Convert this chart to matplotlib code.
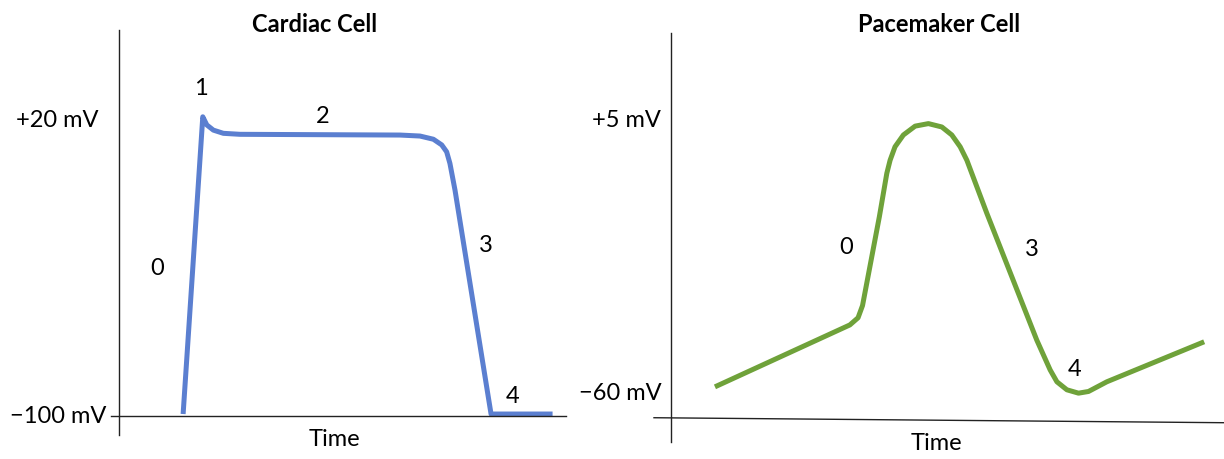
import matplotlib.pyplot as plt

# cardiac (ventricular) action potential, time in ms, voltage in mV
cardiac_t = [43, 56.2, 58.9, 63.3, 70, 81.2, 188.6, 202, 211, 216.6, 219.9, 222.1, 225.5, 249.7, 291]
cardiac_v = [-100, 20.5, 17.2, 15.1, 13.8, 13.4, 13.1, 12.7, 11.4, 9.1, 6.3, 1.6, -9.2, -100, -100]
cardiac_phase = ["0", "1", "2", "3", "4"]
cardiac_phase_t = [25.5, 55, 137, 246, 264]
cardiac_phase_v = [-41, 32, 20.5, -31.5, -93]
cardiac_ticks = [20, -100]
cardiac_ticklabels = ["+20 mV", "\u2212100 mV"]

# pacemaker (SA node) action potential
pace_t = [29.5, 120, 125.5, 128.5, 139.8, 144.8, 147, 150.3, 155.9, 163.8, 172.7, 181.7, 188.4, 194,
          198.5, 211.9, 245.4, 254.4, 258.9, 265.6, 273.4, 280.1, 292.4, 357.7]
pace_v = [-58.8, -44.1, -42.4, -39.5, -18.4, -8.1, -5, -1.8, 1, 3.1, 3.7, 2.9, 1, -1.8,
          -5, -17.6, -47.7, -54.8, -57.6, -59.5, -60.3, -59.9, -57.6, -48.1]
pace_phase = ["0", "3", "4"]
pace_phase_t = [117.4, 242.3, 271]
pace_phase_v = [-25.8, -26.3, -54.8]
pace_ticks = [5, -60]
pace_ticklabels = ["+5 mV", "\u221260 mV"]

plt.rcParams['font.family'] = ['Lato', 'DejaVu Sans']

fig = plt.figure(figsize=(12.24, 4.59), dpi=100)
ax1 = fig.add_axes([0.0907, 0.0523, 0.3717, 0.8824])
ax2 = fig.add_axes([0.5343, 0.037, 0.4657, 0.891])


def style_axes(ax, ticks, labels, xlo, xhi, ylo, yhi, ybase, pads):
    ax.set_xlim(xlo, xhi)
    ax.set_ylim(ylo, yhi)
    for s in ["top", "right"]:
        ax.spines[s].set_visible(False)
    ax.spines["left"].set_position(("data", 0))
    ax.spines["bottom"].set_position(("data", ybase))
    for s in ["left", "bottom"]:
        ax.spines[s].set_linewidth(1.0)
        ax.spines[s].set_color("#222222")
    ax.set_xticks([])
    ax.set_yticks(ticks)
    ax.set_yticklabels(labels, fontsize=17)
    ax.tick_params(axis="y", length=0)
    for tk, p in zip(ax.yaxis.get_major_ticks(), pads):
        tk.set_pad(p)
    ax.patch.set_visible(False)


style_axes(ax1, cardiac_ticks, cardiac_ticklabels, -5.4, 300, -108.5, 55.7, -101, [15, 9])
style_axes(ax2, pace_ticks, pace_ticklabels, -11.4, 371, -71.9, 25.2, -66.5, [7, 7])

# the time axis of the pacemaker panel is drawn slightly askew in the original
ax2.spines["bottom"].set_visible(False)
ax2.plot([0, 1], [0.0594, 0.0472], transform=ax2.transAxes, color="#222222", lw=1.0, clip_on=False)

ax1.plot(cardiac_t, cardiac_v, color="#5B7FD0", lw=3.6, solid_joinstyle="round", solid_capstyle="butt")
ax2.plot(pace_t, pace_v, color="#6FA23A", lw=3.6, solid_joinstyle="round", solid_capstyle="butt")

for s, t, v in zip(cardiac_phase, cardiac_phase_t, cardiac_phase_v):
    ax1.text(t, v, s, fontsize=17, ha="center", va="center")
for s, t, v in zip(pace_phase, pace_phase_t, pace_phase_v):
    ax2.text(t, v, s, fontsize=17, ha="center", va="center")

ax1.set_xlabel("Time", fontsize=17, va="center")
ax1.xaxis.set_label_coords(0.492, -0.012)
ax2.set_xlabel("Time", fontsize=17, va="center")
ax2.xaxis.set_label_coords(0.496, -0.003)

fig.text(315 / 1224, 1 - 25 / 459, "Cardiac Cell", fontsize=17, fontweight="bold", ha="center", va="center")
fig.text(939 / 1224, 1 - 25 / 459, "Pacemaker Cell", fontsize=17, fontweight="bold", ha="center", va="center")

fig.savefig("out.png", dpi=100)
